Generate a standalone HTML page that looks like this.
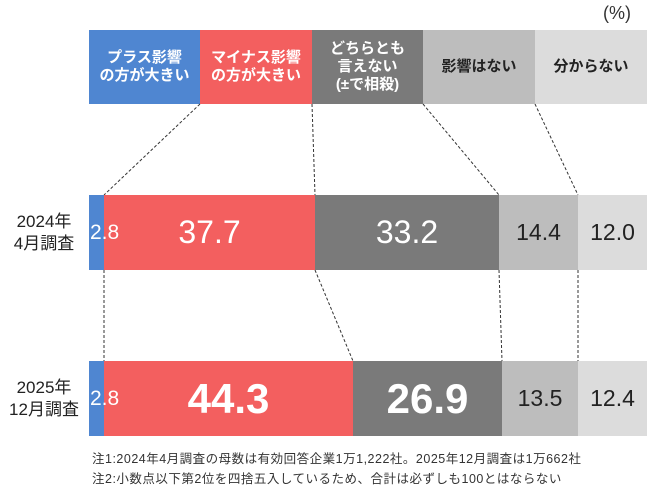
<!DOCTYPE html>
<html><head><meta charset="utf-8"><style>
html,body{margin:0;padding:0;background:#fff}
body{width:650px;height:488px;position:relative;overflow:hidden;font-family:"Liberation Sans","Noto Sans CJK JP",sans-serif}
.a{position:absolute;display:flex;align-items:center;justify-content:center;text-align:center}
.h{font-weight:bold;font-size:15px;line-height:18px}
</style></head><body>
<div class="a" style="left:603px;top:3px;font-size:18px;color:#333">(%)</div>
<div class="a h" style="left:89px;top:30px;width:111px;height:74px;background:#4f86d1;color:#fff">プラス影響<br>の方が大きい</div>
<div class="a h" style="left:200px;top:30px;width:112px;height:74px;background:#f35f5f;color:#fff">マイナス影響<br>の方が大きい</div>
<div class="a h" style="left:312px;top:30px;width:111px;height:74px;background:#7a7a7a;color:#fff">どちらとも<br>言えない<br>(±で相殺)</div>
<div class="a h" style="left:423px;top:30px;width:112px;height:74px;background:#bdbdbd;color:#222">影響はない</div>
<div class="a h" style="left:535px;top:30px;width:112px;height:74px;background:#dcdcdc;color:#222">分からない</div>
<svg style="position:absolute;left:0;top:0" width="650" height="488">
<g stroke="#333" stroke-width="1" stroke-dasharray="3,2" fill="none">
<line x1="200" y1="104" x2="104" y2="195"/><line x1="312" y1="104" x2="315" y2="195"/>
<line x1="423" y1="104" x2="499" y2="195"/><line x1="535" y1="104" x2="578" y2="195"/>
<line x1="104" y1="270" x2="104" y2="361"/><line x1="315" y1="270" x2="353" y2="361"/>
<line x1="499" y1="270" x2="502" y2="361"/><line x1="578" y1="270" x2="578" y2="361"/>
</g></svg>
<div class="a" style="left:0;top:205px;width:88px;height:56px;font-size:17px;line-height:22px;color:#222">2024年<br>4月調査</div>
<div class="a" style="left:0;top:371px;width:88px;height:56px;font-size:17px;line-height:22px;color:#222">2025年<br>12月調査</div>
<div style="position:absolute;left:89px;top:195px;width:15px;height:75px;background:#4f86d1"></div>
<div class="a" style="left:104px;top:195px;width:211px;height:75px;background:#f35f5f;color:#fff;font-size:32px">37.7</div>
<div class="a" style="left:315px;top:195px;width:184px;height:75px;background:#7a7a7a;color:#fff;font-size:32px">33.2</div>
<div class="a" style="left:499px;top:195px;width:79px;height:75px;background:#bdbdbd;color:#222;font-size:23px">14.4</div>
<div class="a" style="left:578px;top:195px;width:69px;height:75px;background:#dcdcdc;color:#222;font-size:23px">12.0</div>
<div class="a" style="left:90px;top:195px;height:75px;color:#fff;font-size:21px">2.8</div>
<div style="position:absolute;left:89px;top:361px;width:15px;height:75px;background:#4f86d1"></div>
<div class="a" style="left:104px;top:361px;width:249px;height:75px;background:#f35f5f;color:#fff;font-size:42px;font-weight:bold">44.3</div>
<div class="a" style="left:353px;top:361px;width:149px;height:75px;background:#7a7a7a;color:#fff;font-size:42px;font-weight:bold">26.9</div>
<div class="a" style="left:502px;top:361px;width:76px;height:75px;background:#bdbdbd;color:#222;font-size:23px">13.5</div>
<div class="a" style="left:578px;top:361px;width:69px;height:75px;background:#dcdcdc;color:#222;font-size:23px">12.4</div>
<div class="a" style="left:90px;top:361px;height:75px;color:#fff;font-size:21px">2.8</div>
<div style="position:absolute;left:92px;top:448px;font-size:12.5px;letter-spacing:0.5px;color:#333;white-space:nowrap">注1:2024年4月調査の母数は有効回答企業1万1,222社。2025年12月調査は1万662社</div>
<div style="position:absolute;left:92px;top:468px;font-size:12.5px;letter-spacing:0.5px;color:#333;white-space:nowrap">注2:小数点以下第2位を四捨五入しているため、合計は必ずしも100とはならない</div>
</body></html>
